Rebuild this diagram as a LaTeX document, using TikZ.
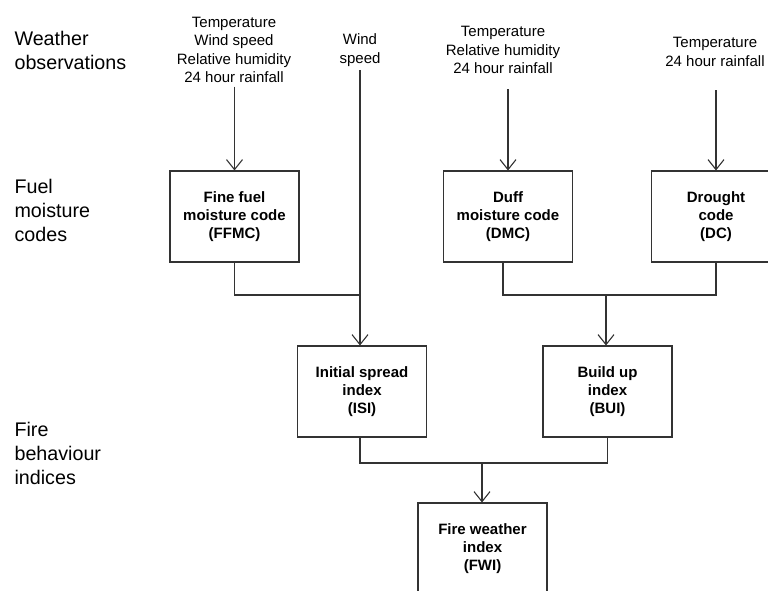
\documentclass[tikz,border=0pt]{standalone}
\usepackage{fontspec}
\setmainfont{Liberation Sans}
\usetikzlibrary{arrows.meta}

\tikzset{
  codebox/.style={draw, minimum width=129pt, minimum height=91pt, inner sep=0pt,
    align=center, font=\fontsize{15}{18}\selectfont\bfseries},
  obstext/.style={align=center, inner sep=3pt, font=\fontsize{15}{18.5}\selectfont},
  rowlabel/.style={anchor=west, align=left, inner sep=0pt, font=\fontsize{19.7}{24}\selectfont},
}

\begin{document}
\begin{tikzpicture}[x=1pt,y=-1pt,line width=1.1pt,draw=black!80,
    >={Straight Barb[length=10pt,width=16pt]}]
  \useasboundingbox (0,0) rectangle (768,590);
  \clip (0,0) rectangle (768,590);

  % row labels
  \node[rowlabel] (lweather) at (14,50.5) {Weather\\observations};
  \node[rowlabel] (lfuel) at (14,210) {Fuel\\moisture\\codes};
  \node[rowlabel] (lfire) at (14,453) {Fire\\behaviour\\indices};

  % weather observations
  \node[obstext] (ffmcin) at (234,50) {Temperature\\Wind speed\\Relative humidity\\24 hour rainfall};
  \node[obstext] (windin) at (360,50) {Wind\\speed};
  \node[obstext] (dmcin) at (503,50) {Temperature\\Relative humidity\\24 hour rainfall};
  \node[obstext] (dcin) at (715,52) {Temperature\\24 hour rainfall};

  % codes and indices
  \node[codebox] (ffmc) at (234.5,216.5) {Fine fuel\\moisture code\\(FFMC)};
  \node[codebox] (dmc) at (508,216.5) {Duff\\moisture code\\(DMC)};
  \node[codebox] (dc) at (716,216.5) {Drought\\code\\(DC)};
  \node[codebox] (isi) at (362,391.5) {Initial spread\\index\\(ISI)};
  \node[codebox] (bui) at (607.5,391.5) {Build up\\index\\(BUI)};
  \node[codebox] (fwi) at (482.5,548.5) {Fire weather\\index\\(FWI)};

  \coordinate (jisi) at (360,295);
  \coordinate (jbui) at (606,295);
  \coordinate (jfwi) at (482,463);

  % connectors
  \draw[->] (ffmcin.south -| ffmc.north) -- (ffmc.north);
  \draw[->] (windin.south) -- (windin.south |- isi.north);
  \draw[->,shorten <=12pt] (dmcin.south -| dmc.north) -- (dmc.north);
  \draw[->,shorten <=20pt] (dcin.south -| dc.north) -- (dc.north);

  \draw (ffmc.south) |- (jisi);
  \draw ([xshift=-5pt]dmc.south) |- (jbui) -| (dc.south);
  \draw[->] (jbui) -- (jbui |- bui.north);

  \draw ([xshift=-2pt]isi.south) |- (jfwi) -| (bui.south);
  \draw[->] (jfwi) -- (jfwi |- fwi.north);
\end{tikzpicture}
\end{document}
